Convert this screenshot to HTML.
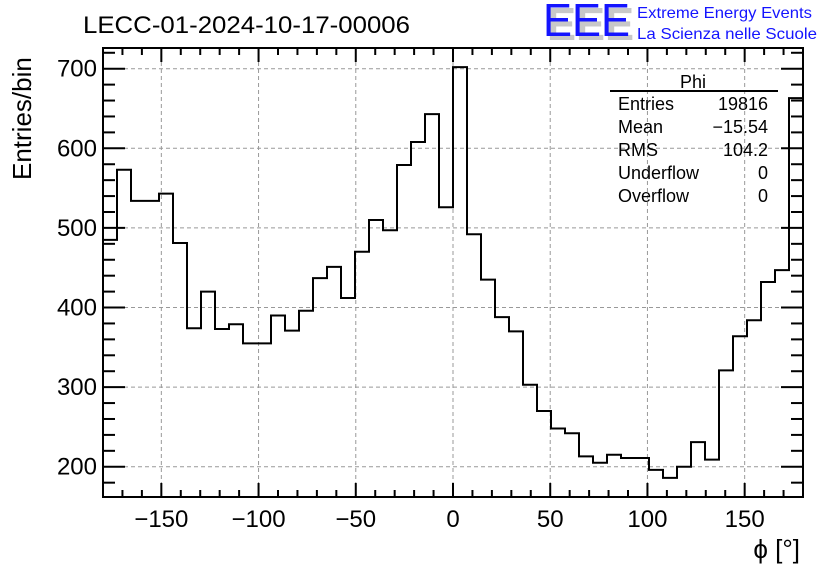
<!DOCTYPE html>
<html><head><meta charset="utf-8"><style>
html,body{margin:0;padding:0;background:#fff;}
svg{display:block;font-family:"Liberation Sans",Arial,sans-serif;}
</style></head><body>
<svg id="chart" width="836" height="572" viewBox="0 0 836 572" xmlns="http://www.w3.org/2000/svg">
<rect width="836" height="572" fill="#fff"/>
<text x="83" y="33" font-size="24" textLength="327" lengthAdjust="spacingAndGlyphs">LECC-01-2024-10-17-00006</text>
<g>
<text x="547" y="40" font-size="46" fill="#c8c8c8" font-weight="bold" textLength="87" lengthAdjust="spacingAndGlyphs">EEE</text>
<text x="543" y="36" font-size="46" fill="#1414ff" textLength="87" lengthAdjust="spacingAndGlyphs">EEE</text>
<text x="637" y="18" font-size="16" fill="#1414ff" textLength="175" lengthAdjust="spacingAndGlyphs">Extreme Energy Events</text>
<text x="637" y="39" font-size="16" fill="#1414ff" textLength="180" lengthAdjust="spacingAndGlyphs">La Scienza nelle Scuole</text>
</g>
<g id="grid"></g>
<g id="hist"></g>
<g id="axes"></g>
<g font-size="18">
<text x="693" y="88" text-anchor="middle">Phi</text>
<line x1="610" y1="91" x2="778" y2="91" stroke="#000" stroke-width="2"/>
<text x="618" y="110">Entries</text><text x="768" y="110" text-anchor="end">19816</text>
<text x="618" y="133">Mean</text><text x="768" y="133" text-anchor="end">−15.54</text>
<text x="618" y="156">RMS</text><text x="768" y="156" text-anchor="end">104.2</text>
<text x="618" y="179">Underflow</text><text x="768" y="179" text-anchor="end">0</text>
<text x="618" y="202">Overflow</text><text x="768" y="202" text-anchor="end">0</text>
</g>
<text x="800" y="558" font-size="26" text-anchor="end">ϕ [°]</text>
<text transform="translate(31,180) rotate(-90)" font-size="26">Entries/bin</text>
</svg>
<script>
const binLow = -180, binWidth = 7.2;
const counts = [485,573,534,534,543,481,374,420,373,379,355,355,390,371,396,437,451,412,470,510,497,579,608,643,526,702,492,435,388,370,303,270,248,242,213,205,215,211,211,196,186,200,231,209,321,364,384,432,447,663];
const xTicks = [-150,-100,-50,0,50,100,150];
const yTicks = [200,300,400,500,600,700];

const L=103,R=803,T=48,B=497;
const xMin=-180,xMax=180,yMin=162,yMax=726;
const sx=v=>L+(v-xMin)/(xMax-xMin)*(R-L);
const sy=v=>B-(v-yMin)/(yMax-yMin)*(B-T);
const NS="http://www.w3.org/2000/svg";
function mk(tag,attrs,parent){const e=document.createElementNS(NS,tag);for(const k in attrs)e.setAttribute(k,attrs[k]);parent.appendChild(e);return e;}
const grid=document.getElementById('grid'),hist=document.getElementById('hist'),axes=document.getElementById('axes');
xTicks.forEach(t=>{const l=mk('line',{x1:sx(t),x2:sx(t),y1:T,y2:B,stroke:'#999','stroke-dasharray':'4,3','stroke-width':1},grid);

});
yTicks.forEach(t=>{const l=mk('line',{x1:L,x2:R,y1:sy(t),y2:sy(t),stroke:'#999','stroke-dasharray':'4,3','stroke-width':1},grid);

});
let d='';
counts.forEach((c,i)=>{const x0=sx(binLow+i*binWidth),x1=sx(binLow+(i+1)*binWidth),y=sy(c);
d+=(i===0?'M'+x0+','+y:'L'+x0+','+y)+'L'+x1+','+y;});
const p=mk('path',{d:d,fill:'none',stroke:'#000','stroke-width':2},hist);


const fr=mk('rect',{x:L,y:T,width:R-L,height:B-T,fill:'none',stroke:'#000','stroke-width':2},axes);


for(let v=-180;v<=180;v+=10){const x=sx(v),len=(v%50===0)?14:7;
mk('line',{x1:x,x2:x,y1:B,y2:B-len,stroke:'#000','stroke-width':2},axes);
mk('line',{x1:x,x2:x,y1:T,y2:T+len,stroke:'#000','stroke-width':2},axes);}
for(let v=180;v<=720;v+=20){const y=sy(v),len=(v%100===0)?22:12;
mk('line',{x1:L,x2:L+len,y1:y,y2:y,stroke:'#000','stroke-width':2},axes);
mk('line',{x1:R,x2:R-len,y1:y,y2:y,stroke:'#000','stroke-width':2},axes);}
xTicks.forEach(t=>{const e=mk('text',{x:sx(t),y:527,'font-size':24,'text-anchor':'middle'},axes);e.textContent=(t<0?'−'+(-t):t);

});
yTicks.forEach(t=>{const e=mk('text',{x:97,y:sy(t)+8,'font-size':24,'text-anchor':'end'},axes);e.textContent=t;

});
</script>
</body></html>
